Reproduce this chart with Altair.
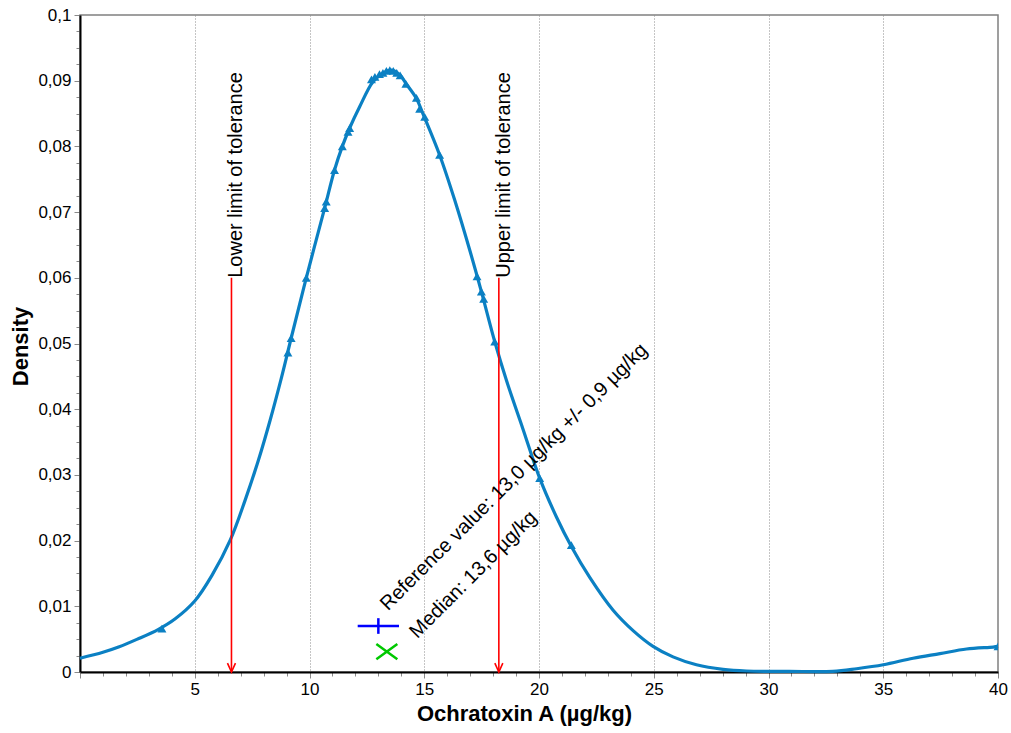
import altair as alt
import pandas as pd

# Density curve
curve_x = [0, 1.0, 1.68, 2.5, 3.42, 4.15, 5.0, 5.75, 6.55, 7.2, 7.78, 8.29, 8.77, 9.2, 9.86,
           10.66, 11.09, 11.43, 11.75, 12.18, 12.76, 13.2, 13.56, 13.93, 14.22, 14.66, 14.94,
           15.67, 16.33, 17.0, 17.49, 18.07, 18.58, 19.3, 20.03, 20.76, 21.41, 22.21, 23.23,
           24.1, 24.97, 25.84, 26.86, 28.02, 29.04, 30.9, 32.8, 33.84, 35.0, 36.3, 37.47,
           38.63, 39.79, 40.0]
curve_y = [0.0021, 0.0030, 0.0038, 0.0050, 0.0065, 0.0081, 0.0108, 0.0147, 0.0201, 0.0262,
           0.0323, 0.0384, 0.0447, 0.0508, 0.0600, 0.0706, 0.0764, 0.0800, 0.0828, 0.0860,
           0.0898, 0.0911, 0.0916, 0.0909, 0.0895, 0.0873, 0.0850, 0.0787, 0.0718, 0.0640,
           0.0579, 0.0503, 0.0444, 0.0370, 0.0295, 0.0236, 0.0191, 0.0144, 0.0094, 0.0063,
           0.0039, 0.0023, 0.0011, 0.0004, 0.00015, 0.0001, 0.0001, 0.0005, 0.0011, 0.0021,
           0.0028, 0.0035, 0.0038, 0.0039]

# Laboratory results (triangles on the curve)
pts_x = [3.57, 9.06, 9.2, 9.86, 10.66, 10.73, 11.09, 11.43, 11.68, 11.75, 12.7, 12.85,
         13.05, 13.2, 13.35, 13.5, 13.65, 13.8, 13.95, 14.2, 14.66, 14.8, 15.02, 15.67,
         17.3, 17.49, 17.59, 18.07, 20.03, 21.41, 40.0]
pts_y = [0.0066, 0.0486, 0.0508, 0.0600, 0.0706, 0.0716, 0.0764, 0.0800, 0.0822, 0.0828,
         0.0902, 0.0906, 0.0910, 0.0912, 0.0915, 0.0916, 0.0915, 0.0912, 0.0908, 0.0895,
         0.0874, 0.0857, 0.0845, 0.0787, 0.0602, 0.0579, 0.0568, 0.0503, 0.0295, 0.0193,
         0.0039]

# Tolerance limits
limit_x = [6.6, 18.25]
limit_top = 0.06
limit_labels = ["Lower limit of tolerance", "Upper limit of tolerance"]

# Reference value and median markers
ref_value = 13.0
ref_unc = 0.9
ref_y = 0.007
median_x = 13.37
median_y = 0.0031

ann_x = [13.42, 14.7]
ann_y = [0.0092, 0.0050]
ann_text = ["Reference value: 13,0 µg/kg +/- 0,9 µg/kg", "Median: 13,6 µg/kg"]

BLUE = "#0b80c3"
FONT = "Liberation Sans"

curve_df = pd.DataFrame({"x": curve_x, "y": curve_y})
pts_df = pd.DataFrame({"x": pts_x, "y": pts_y})
lim_df = pd.DataFrame({"x": limit_x, "top": [limit_top] * 2, "bot": [0.0] * 2, "label": limit_labels})
ref_df = pd.DataFrame({"x": [ref_value], "lo": [ref_value - ref_unc], "hi": [ref_value + ref_unc], "y": [ref_y]})
med_df = pd.DataFrame({"x": [median_x], "y": [median_y]})
ann_df = pd.DataFrame({"x": ann_x, "y": ann_y, "t": ann_text})

major_x = "datum.value % 5 == 0"
major_y = "abs(datum.value*100 - round(datum.value*100)) < 0.001"

x_scale = alt.Scale(domain=[0, 40], nice=False, zero=False)
y_scale = alt.Scale(domain=[0, 0.1], nice=False)

x_axis = alt.Axis(
    values=list(range(0, 41)),
    tickCount=200,
    labelExpr=f"({major_x}) && datum.value > 0 ? format(datum.value, 'd') : ''",
    tickSize={"condition": {"test": major_x, "value": 6}, "value": 4},
    grid=True,
    gridOpacity={"condition": {"test": f"({major_x}) && datum.value > 0 && datum.value < 40", "value": 1}, "value": 0},
    gridDash=[1, 2], gridColor="#8a8a8a", gridWidth=1,
    domainColor="black", domainWidth=2, tickColor="#8a8a8a", tickWidth=1,
    labelFontSize=17, labelFont=FONT, labelColor="black", labelFlush=False,
    labelOverlap=False, labelPadding=3,
    title="Ochratoxin A (µg/kg)", titleFontSize=22, titleFont=FONT, titleFontWeight="bold",
    titleColor="black", titleX=444, titleY=31, titleAlign="center", titleBaseline="top",
)
y_axis = alt.Axis(
    values=[round(i * 0.0025, 4) for i in range(41)],
    tickCount=200,
    labelExpr=f"{major_y} ? replace(format(datum.value, '.2~f'), '.', ',') : ''",
    tickSize={"condition": {"test": major_y, "value": 6}, "value": 4},
    grid=False,
    domainColor="black", domainWidth=2, tickColor="#8a8a8a", tickWidth=1,
    labelFontSize=17, labelFont=FONT, labelColor="black", labelFlush=False,
    labelOverlap=False, labelPadding=3,
    title="Density", titleFontSize=22, titleFont=FONT, titleFontWeight="bold",
    titleColor="black", titleAngle=270, titleX=-60, titleY=331,
    titleAlign="center", titleBaseline="middle",
)

line = alt.Chart(curve_df).mark_line(color=BLUE, strokeWidth=3.2, interpolate="catmull-rom").encode(
    x=alt.X("x:Q", scale=x_scale, axis=x_axis),
    y=alt.Y("y:Q", scale=y_scale, axis=y_axis),
)

tri = alt.Chart(pts_df).mark_point(shape="triangle-up", filled=True, color=BLUE, size=80, opacity=1, clip=True).encode(
    x="x:Q", y="y:Q")

rules = alt.Chart(lim_df).mark_rule(color="#ff0000", strokeWidth=1.6).encode(
    x="x:Q", y="top:Q", y2="bot:Q")

arrows = alt.Chart(lim_df).mark_point(
    shape="M-1,-2.2L0,0L1,-2.2", filled=False, color="#ff0000", strokeWidth=1.6, size=64, opacity=1
).encode(x="x:Q", y="bot:Q")

lim_text = alt.Chart(lim_df).mark_text(
    angle=270, align="left", baseline="middle", dx=0, dy=5, fontSize=20, font=FONT, color="black"
).encode(x="x:Q", y="top:Q", text="label:N")

ref_h = alt.Chart(ref_df).mark_rule(color="#0000ff", strokeWidth=2.5).encode(
    x="lo:Q", x2="hi:Q", y="y:Q")
ref_v = alt.Chart(ref_df).mark_point(
    shape="M0,-1L0,1", filled=False, color="#0000ff", strokeWidth=2.5, size=245, opacity=1
).encode(x="x:Q", y="y:Q")

med = alt.Chart(med_df).mark_point(
    shape="M-1,-0.72L1,0.72M-1,0.72L1,-0.72", filled=False, color="#00c800", strokeWidth=2.5, size=441, opacity=1
).encode(x="x:Q", y="y:Q")

ann = alt.Chart(ann_df).mark_text(
    angle=315, align="left", baseline="alphabetic", fontSize=20, font=FONT, color="black"
).encode(x="x:Q", y="y:Q", text="t:N")

chart = alt.layer(line, tri, rules, arrows, lim_text, ref_h, ref_v, med, ann).properties(
    width=918, height=657,
    autosize=alt.AutoSizeParams(type="none"),
    padding={"left": 80, "top": 15, "right": 13, "bottom": 61},
    background="white",
).configure_view(stroke="#808080", strokeWidth=1.5)

chart.save("out.html", embed_options={"renderer": "svg", "actions": False})
